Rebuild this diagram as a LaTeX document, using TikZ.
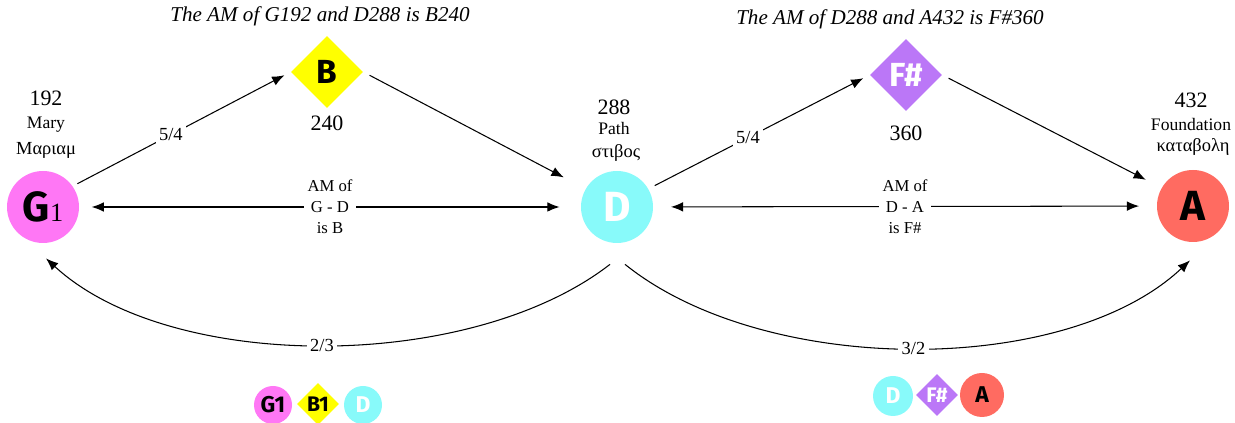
\documentclass[tikz,border=0pt]{standalone}
\usepackage{fontspec}
\setmainfont{Liberation Serif}
\newfontfamily\notefont{Fira Sans}
\usetikzlibrary{shapes.geometric,arrows.meta}
\definecolor{pinkG}{RGB}{255,119,245}
\definecolor{cyanD}{RGB}{136,250,250}
\definecolor{redA}{RGB}{255,107,97}
\definecolor{yellowB}{RGB}{255,255,0}
\definecolor{purpleF}{RGB}{187,119,247}
\begin{document}
\begin{tikzpicture}[
    >={Latex[length=7pt,width=5.5pt]},
    tone/.style={circle, minimum size=1.44cm, inner sep=0pt, font=\notefont\bfseries\fontsize{24}{24}\selectfont},
    mean/.style={diamond, aspect=1, minimum size=1.44cm, inner sep=0pt, font=\notefont\bfseries\fontsize{19}{19}\selectfont},
    small/.style={circle, minimum size=0.76cm, inner sep=0pt, font=\notefont\bfseries\fontsize{13}{13}\selectfont},
    smallmean/.style={diamond, aspect=1, minimum size=0.84cm, inner sep=0pt, font=\notefont\bfseries\fontsize{12}{12}\selectfont},
    num/.style={font=\fontsize{12.5}{14}\selectfont},
    eng/.style={font=\fontsize{10}{12}\selectfont},
    greek/.style={font=\fontsize{10.5}{12}\selectfont},
    heading/.style={font=\itshape\fontsize{12}{14}\selectfont},
    lab/.style={fill=white, inner sep=2pt, font=\fontsize{9.5}{12}\selectfont, align=center},
    link/.style={->, line width=0.6pt}
  ]
  \useasboundingbox (0,0) rectangle (24.7,8.46);

  % main tones
  \node [tone, fill=pinkG] (G) at (0.86,4.32) {G{\normalfont\mdseries\fontsize{15}{15}\selectfont 1}};
  \node [mean, fill=yellowB] (B) at (6.54,7.02) {B};
  \node [tone, fill=cyanD, text=white] (D) at (12.34,4.32) {D};
  \node [mean, fill=purpleF, text=white] (F) at (18.12,6.96) {F\#};
  \node [tone, fill=redA] (A) at (23.86,4.34) {A};

  % texts
  \node [heading] (t1) at (6.4,8.14) {The AM of G192 and D288 is B240};
  \node [heading] (t2) at (17.8,8.08) {The AM of D288 and A432 is F\#360};
  \node [num] (g192) at (0.92,6.5) {192};
  \node [eng] (gmary) at (0.92,5.96) {Mary};
  \node [greek] (ggr) at (0.92,5.46) {Μαριαμ};
  \node [num] (b240) at (6.54,6.0) {240};
  \node [num] (d288) at (12.28,6.32) {288};
  \node [eng] (dpath) at (12.28,5.9) {Path};
  \node [greek] (dgr) at (12.32,5.4) {στιβος};
  \node [num] (f360) at (18.12,5.8) {360};
  \node [num] (a432) at (23.82,6.46) {432};
  \node [eng] (afound) at (23.82,5.98) {Foundation};
  \node [greek] (agr) at (23.86,5.52) {καταβολη};

  % ends of the curves
  \coordinate (dleft) at ([xshift=-0.14cm, yshift=-0.42cm]D.south);
  \coordinate (dright) at ([xshift=0.16cm, yshift=-0.42cm]D.south);
  \coordinate (gend) at ([xshift=0.06cm, yshift=-0.3cm]G.south);
  \coordinate (aend) at ([xshift=-0.06cm, yshift=-0.36cm]A.south);

  % arrows
  \draw [link, shorten <=3pt, shorten >=4pt] (G.35) -- (B.west) node [lab, pos=0.45, font=\fontsize{10.5}{12}\selectfont] {5/4};
  \draw [link, shorten <=4pt, shorten >=14pt] (B.east) -- (D.150);
  \draw [link, shorten <=4pt, shorten >=4pt] (D.30) -- (F.west) node [lab, pos=0.45, font=\fontsize{10.5}{12}\selectfont] {5/4};
  \draw [link, shorten <=4pt, shorten >=10pt] (F.east) -- (A.150);
  \draw [<->, line width=0.6pt, shorten <=7pt, shorten >=12pt] (G) -- (D) node [lab, midway] {AM of\\G - D\\is B};
  \draw [<->, line width=0.6pt, shorten <=10pt, shorten >=10pt] (D) -- (A) node [lab, midway] {AM of\\D - A\\is F\#};
  \draw [link] (dleft) .. controls (9.4,1.0) and (3.4,1.0) .. (gend) node [lab, pos=0.5, font=\fontsize{10.5}{12}\selectfont] {2/3};
  \draw [link] (dright) .. controls (15.3,0.92) and (21.32,0.92) .. (aend) node [lab, pos=0.5, font=\fontsize{10.5}{12}\selectfont] {3/2};

  % small groups
  \node [small, fill=pinkG] (sg) at (5.46,0.36) {G1};
  \node [smallmean, fill=yellowB] (sb) at (6.36,0.38) {B1};
  \node [small, fill=cyanD, text=white] (sd) at (7.26,0.36) {D};
  \node [small, fill=cyanD, text=white, minimum size=0.8cm] (sd2) at (17.86,0.54) {D};
  \node [smallmean, fill=purpleF, text=white] (sf) at (18.74,0.56) {F\#};
  \node [small, fill=redA, minimum size=0.88cm] (sa) at (19.64,0.56) {A};
\end{tikzpicture}
\end{document}
